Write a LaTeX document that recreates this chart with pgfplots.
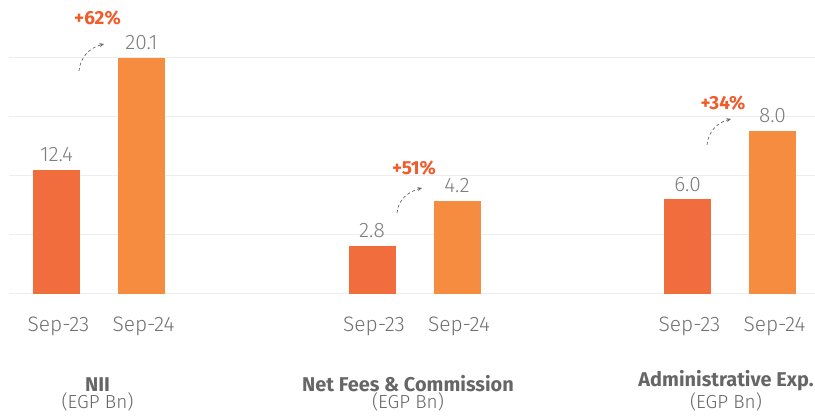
\documentclass[border=0pt]{standalone}
\usepackage{pgfplots}
\pgfplotsset{compat=1.18}
\usepackage{fontspec}
\usetikzlibrary{arrows.meta}
\setmainfont{Fira Sans}
\newfontfamily\lightfont{Fira Sans Light}
\definecolor{barA}{HTML}{F26D3D}
\definecolor{barB}{HTML}{F58C40}
\definecolor{pct}{HTML}{F15A29}
\definecolor{txt}{HTML}{717171}
\definecolor{val}{HTML}{7D7D7D}
\definecolor{ttl}{HTML}{666666}
\definecolor{gridc}{HTML}{EDEDED}
\definecolor{arr}{HTML}{666666}

\pgfplotsset{
  grp/.style={
    scale only axis, width=170bp, height=236bp, anchor=south west,
    xmin=-0.5, xmax=1.5, ymin=0,
    clip=false,
    axis line style={draw=none}, tick style={draw=none},
    ytick=\empty, xtick={0,1}, xticklabels={Sep-23,Sep-24},
    xticklabel style={font=\lightfont\fontsize{21}{21}\selectfont, text=txt, anchor=base, yshift=-38bp, xshift=2bp},
    /pgf/number format/assume math mode=true,
    point meta={rawy},
    nodes near coords,
    nodes near coords style={font=\lightfont\fontsize{21}{21}\selectfont, text=val, anchor=base, yshift=8bp,
      /pgf/number format/.cd, fixed, fixed zerofill, precision=1},
  },
  bA/.style={ybar, bar width=47bp, bar shift=0pt, fill=barA, draw=none},
  bB/.style={ybar, bar width=47bp, bar shift=0pt, fill=barB, draw=none},
}

\begin{document}
\begin{tikzpicture}
\useasboundingbox (0,0) rectangle (815bp,416bp);

% background grid
\begin{axis}[at={(9bp,122bp)}, anchor=south west, scale only axis,
  width=806bp, height=236bp, xmin=0, xmax=1, ymin=0, ymax=4,
  ytick={0,1,2,3,4}, xtick=\empty, yticklabels={},
  ymajorgrids, major grid style={draw=gridc, line width=1bp},
  axis line style={draw=none}, tick style={draw=none}]
  \addplot[draw=none] coordinates {(0,0)};
\end{axis}

% NII
\begin{axis}[grp, at={(14bp,122bp)}, ymax=16.225, y filter/.expression={y-3.875}]
  \addplot[bA] coordinates {(0,12.4)};
  \addplot[bB] coordinates {(1,20.1)};
\end{axis}

% Net Fees & Commission
\begin{axis}[grp, at={(329.5bp,122bp)}, ymax=7.343, y filter/.expression={y-1.306}]
  \addplot[bA] coordinates {(0,2.8)};
  \addplot[bB] coordinates {(1,4.2)};
\end{axis}

% Administrative Exp.
\begin{axis}[grp, at={(645bp,122bp)}, ymax=6.941, y filter/.expression={y-3.206}]
  \addplot[bA] coordinates {(0,6.0)};
  \addplot[bB] coordinates {(1,8.0)};
\end{axis}

% growth labels
\tikzset{pctl/.style={font=\bfseries\fontsize{19}{19}\selectfont, text=pct, inner sep=0pt}}
\node[pctl] at (97.5bp,397.5bp) {+62\%};
\node[pctl] at (414bp,248bp) {+51\%};
\node[pctl] at (723bp,313bp) {+34\%};

\tikzset{garrow/.style={draw=arr, line width=0.7bp, dash pattern=on 3bp off 2.5bp, -{Stealth[length=4.5bp,width=4bp]}}}
\draw[garrow] (79bp,345bp) to[out=85,in=195] (104bp,372bp);
\draw[garrow] (397bp,203bp) to[out=85,in=195] (422bp,228bp);
\draw[garrow] (707bp,271bp) to[out=85,in=195] (731bp,297bp);

% group titles (two lines in one node)
\tikzset{ttl/.style={font=\fontsize{19}{15.5}\selectfont, text=ttl, anchor=south, inner sep=0pt, align=center}}
\newcommand\grouptitle[1]{{\bfseries\fontsize{20}{15.5}\selectfont #1}\\{\lightfont\fontsize{19}{15.5}\selectfont (EGP Bn)}}
\node[ttl] at (97.5bp,5bp) {\grouptitle{NII}};
\node[ttl] at (408bp,5bp) {\grouptitle{Net Fees \& Commission}};
\node[ttl] at (726bp,5bp) {\grouptitle{Administrative Exp.}};
\end{tikzpicture}
\end{document}
